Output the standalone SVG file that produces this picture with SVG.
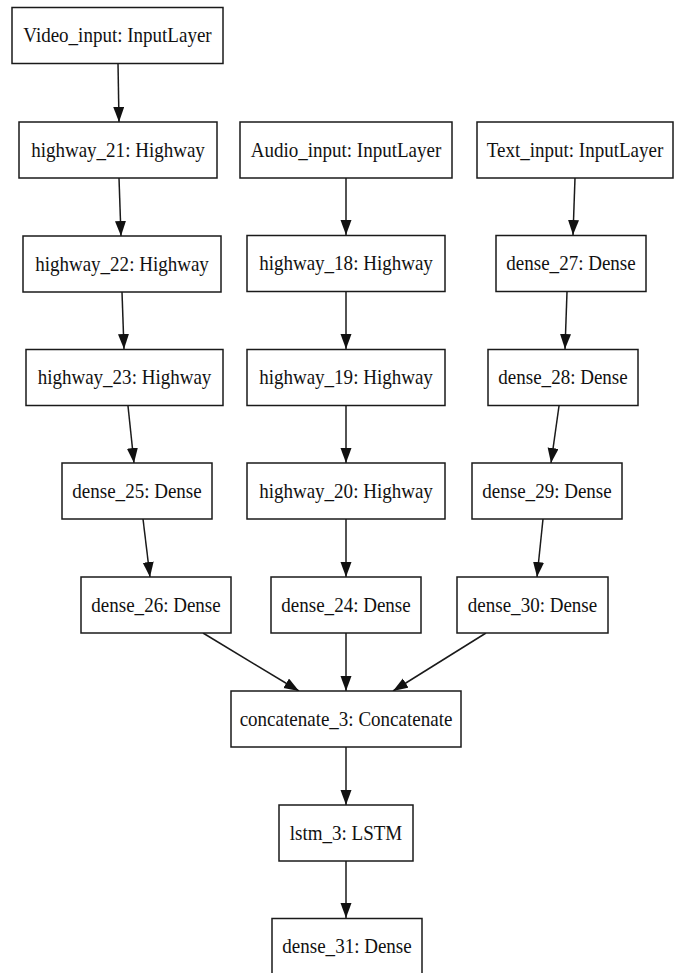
<svg xmlns="http://www.w3.org/2000/svg" width="682" height="973" viewBox="0 0 682 973">
  <style>
    .box { fill: #ffffff; stroke: #1a1a1a; stroke-width: 1.5; }
    .lbl { font-family: "Liberation Serif", "Times New Roman", serif; font-size: 22px; fill: #111111; text-anchor: middle; }
    .edge { stroke: #1a1a1a; stroke-width: 1.5; fill: none; marker-end: url(#arrow); }
  </style>
  <defs>
    <marker id="arrow" markerUnits="userSpaceOnUse" markerWidth="16" markerHeight="12" refX="15" refY="5.5" orient="auto">
      <path d="M0,0 L15,5.5 L0,11 Z" fill="#111111"/>
    </marker>
  </defs>
  <rect width="682" height="973" fill="#ffffff"/>

  <!-- layer connections -->
  <g id="edges">
    <line class="edge" x1="118" y1="63" x2="119" y2="122"/>
    <line class="edge" x1="119" y1="178" x2="121" y2="236"/>
    <line class="edge" x1="122" y1="292" x2="124" y2="349"/>
    <line class="edge" x1="128" y1="406" x2="134" y2="463"/>
    <line class="edge" x1="143" y1="519" x2="150" y2="577"/>
    <line class="edge" x1="346" y1="178" x2="346" y2="235"/>
    <line class="edge" x1="346" y1="292" x2="346" y2="349"/>
    <line class="edge" x1="346" y1="406" x2="346" y2="463"/>
    <line class="edge" x1="346" y1="519" x2="346" y2="577"/>
    <line class="edge" x1="575" y1="178" x2="573" y2="235"/>
    <line class="edge" x1="567" y1="292" x2="565" y2="349"/>
    <line class="edge" x1="559" y1="406" x2="551" y2="463"/>
    <line class="edge" x1="543" y1="519" x2="537" y2="577"/>
    <line class="edge" x1="203" y1="633" x2="299" y2="691"/>
    <line class="edge" x1="346" y1="633" x2="346" y2="691"/>
    <line class="edge" x1="486" y1="633" x2="393" y2="691"/>
    <line class="edge" x1="346" y1="747" x2="346" y2="805"/>
    <line class="edge" x1="346" y1="861" x2="346" y2="918"/>
  </g>

  <!-- video branch -->
  <g id="video_input">
    <rect class="box" x="12" y="7.5" width="211" height="56"/>
    <text class="lbl" transform="translate(117.5 42) scale(0.865 1)">Video_input: InputLayer</text>
  </g>
  <g id="highway_21">
    <rect class="box" x="19" y="122" width="198" height="56"/>
    <text class="lbl" transform="translate(118 156.5) scale(0.865 1)">highway_21: Highway</text>
  </g>
  <g id="highway_22">
    <rect class="box" x="23" y="236" width="198" height="56"/>
    <text class="lbl" transform="translate(122 270.5) scale(0.865 1)">highway_22: Highway</text>
  </g>
  <g id="highway_23">
    <rect class="box" x="26" y="349.5" width="197" height="56"/>
    <text class="lbl" transform="translate(124.5 384) scale(0.865 1)">highway_23: Highway</text>
  </g>
  <g id="dense_25">
    <rect class="box" x="62" y="463" width="150" height="56"/>
    <text class="lbl" transform="translate(137 497.5) scale(0.865 1)">dense_25: Dense</text>
  </g>
  <g id="dense_26">
    <rect class="box" x="81" y="577" width="150" height="56"/>
    <text class="lbl" transform="translate(156 611.5) scale(0.865 1)">dense_26: Dense</text>
  </g>

  <!-- audio branch -->
  <g id="audio_input">
    <rect class="box" x="240" y="122" width="212" height="56"/>
    <text class="lbl" transform="translate(346 156.5) scale(0.865 1)">Audio_input: InputLayer</text>
  </g>
  <g id="highway_18">
    <rect class="box" x="247" y="235.5" width="198" height="56"/>
    <text class="lbl" transform="translate(346 270) scale(0.865 1)">highway_18: Highway</text>
  </g>
  <g id="highway_19">
    <rect class="box" x="247" y="349.5" width="198" height="56"/>
    <text class="lbl" transform="translate(346 384) scale(0.865 1)">highway_19: Highway</text>
  </g>
  <g id="highway_20">
    <rect class="box" x="247" y="463" width="198" height="56"/>
    <text class="lbl" transform="translate(346 497.5) scale(0.865 1)">highway_20: Highway</text>
  </g>
  <g id="dense_24">
    <rect class="box" x="271" y="577" width="150" height="56"/>
    <text class="lbl" transform="translate(346 611.5) scale(0.865 1)">dense_24: Dense</text>
  </g>

  <!-- text branch -->
  <g id="text_input">
    <rect class="box" x="477" y="122" width="196" height="56"/>
    <text class="lbl" transform="translate(575 156.5) scale(0.865 1)">Text_input: InputLayer</text>
  </g>
  <g id="dense_27">
    <rect class="box" x="496" y="235.5" width="150" height="56"/>
    <text class="lbl" transform="translate(571 270) scale(0.865 1)">dense_27: Dense</text>
  </g>
  <g id="dense_28">
    <rect class="box" x="488" y="349.5" width="150" height="56"/>
    <text class="lbl" transform="translate(563 384) scale(0.865 1)">dense_28: Dense</text>
  </g>
  <g id="dense_29">
    <rect class="box" x="472" y="463" width="150" height="56"/>
    <text class="lbl" transform="translate(547 497.5) scale(0.865 1)">dense_29: Dense</text>
  </g>
  <g id="dense_30">
    <rect class="box" x="457" y="577" width="151" height="56"/>
    <text class="lbl" transform="translate(532.5 611.5) scale(0.865 1)">dense_30: Dense</text>
  </g>

  <!-- merged head -->
  <g id="concatenate_3">
    <rect class="box" x="231" y="691" width="230" height="56"/>
    <text class="lbl" transform="translate(346 725.5) scale(0.865 1)">concatenate_3: Concatenate</text>
  </g>
  <g id="lstm_3">
    <rect class="box" x="279" y="805" width="134" height="56"/>
    <text class="lbl" transform="translate(346 839.5) scale(0.865 1)">lstm_3: LSTM</text>
  </g>
  <g id="dense_31">
    <rect class="box" x="272" y="918.5" width="150" height="60"/>
    <text class="lbl" transform="translate(347 953) scale(0.865 1)">dense_31: Dense</text>
  </g>
</svg>
